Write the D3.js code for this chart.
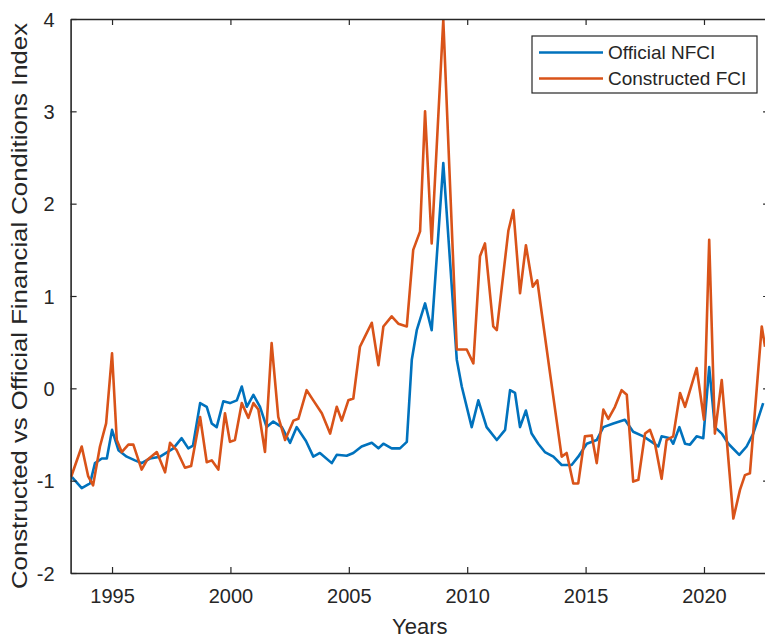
<!DOCTYPE html>
<html>
<head>
<meta charset="utf-8">
<script src="https://cdn.jsdelivr.net/npm/d3@7"></script>
<style>
  html, body { margin: 0; padding: 0; background: #fff; }
  svg { display: block; font-family: "Liberation Sans", Arial, Helvetica, sans-serif; }
</style>
</head>
<body>
<svg id="chart" width="765" height="638"></svg>
<script>
// Official NFCI (quarterly, decimal years)
const nfciYears = [1993.30, 1993.72, 1994.07, 1994.28, 1994.57, 1994.78, 1995.00, 1995.27, 1995.62, 1995.97,
  1996.25, 1996.60, 1997.03, 1997.59, 1997.94, 1998.22, 1998.42, 1998.72, 1999.00, 1999.21,
  1999.42, 1999.70, 1999.98, 2000.27, 2000.48, 2000.69, 2000.97, 2001.25, 2001.53, 2001.81,
  2002.17, 2002.52, 2002.80, 2003.19, 2003.50, 2003.78, 2004.28, 2004.49, 2004.91, 2005.19,
  2005.54, 2005.97, 2006.25, 2006.46, 2006.81, 2007.16, 2007.45, 2007.66, 2007.87, 2008.22,
  2008.50, 2008.99, 2009.56, 2009.77, 2010.19, 2010.47, 2010.82, 2011.25, 2011.60, 2011.81,
  2012.02, 2012.23, 2012.48, 2012.72, 2013.00, 2013.28, 2013.64, 2013.99, 2014.41, 2014.69,
  2015.05, 2015.47, 2015.75, 2016.17, 2016.66, 2017.01, 2017.44, 2017.79, 2018.07, 2018.21,
  2018.56, 2018.70, 2018.96, 2019.20, 2019.41, 2019.69, 2019.97, 2020.22, 2020.46, 2020.75,
  2021.03, 2021.49, 2021.80, 2022.08, 2022.50];
const nfciValues = [-0.96, -1.08, -1.03, -0.81, -0.76, -0.76, -0.45, -0.67, -0.74, -0.78,
  -0.81, -0.76, -0.74, -0.65, -0.54, -0.65, -0.62, -0.16, -0.20, -0.38,
  -0.42, -0.14, -0.16, -0.13, 0.02, -0.20, -0.07, -0.20, -0.42, -0.36,
  -0.42, -0.59, -0.42, -0.57, -0.74, -0.70, -0.81, -0.72, -0.73, -0.70,
  -0.63, -0.59, -0.65, -0.60, -0.65, -0.65, -0.58, 0.31, 0.63, 0.92,
  0.63, 2.44, 0.31, 0.02, -0.42, -0.13, -0.42, -0.56, -0.45, -0.02,
  -0.05, -0.42, -0.24, -0.49, -0.60, -0.69, -0.74, -0.83, -0.83, -0.74,
  -0.60, -0.56, -0.42, -0.38, -0.34, -0.47, -0.52, -0.58, -0.63, -0.52,
  -0.54, -0.60, -0.42, -0.60, -0.61, -0.52, -0.54, 0.23, -0.42, -0.49,
  -0.60, -0.72, -0.63, -0.49, -0.16];

// Constructed FCI
const fciYears = [1993.27, 1993.72, 1993.99, 1994.20, 1994.49, 1994.75, 1995.00, 1995.20, 1995.41, 1995.69,
  1995.90, 1996.25, 1996.47, 1996.89, 1997.24, 1997.45, 1997.73, 1998.08, 1998.34, 1998.72,
  1999.00, 1999.21, 1999.49, 1999.77, 1999.98, 2000.19, 2000.48, 2000.76, 2000.97, 2001.18,
  2001.46, 2001.74, 2002.02, 2002.31, 2002.66, 2002.87, 2003.22, 2003.50, 2003.86, 2004.21,
  2004.49, 2004.70, 2004.98, 2005.19, 2005.47, 2005.68, 2005.97, 2006.25, 2006.46, 2006.81,
  2007.09, 2007.45, 2007.72, 2008.01, 2008.22, 2008.50, 2008.99, 2009.56, 2009.98, 2010.26,
  2010.54, 2010.75, 2011.10, 2011.25, 2011.74, 2011.95, 2012.23, 2012.48, 2012.77, 2012.96,
  2013.15, 2013.50, 2013.99, 2014.20, 2014.48, 2014.69, 2014.97, 2015.26, 2015.47, 2015.75,
  2015.96, 2016.24, 2016.52, 2016.74, 2017.01, 2017.23, 2017.51, 2017.72, 2017.93, 2018.21,
  2018.42, 2018.70, 2018.99, 2019.20, 2019.69, 2020.00, 2020.22, 2020.46, 2020.75, 2021.24,
  2021.52, 2021.73, 2021.94, 2022.44, 2022.58];
const fciValues = [-0.96, -0.63, -0.95, -1.05, -0.63, -0.38, 0.38, -0.56, -0.69, -0.61,
  -0.61, -0.88, -0.78, -0.69, -0.91, -0.59, -0.67, -0.86, -0.84, -0.31,
  -0.80, -0.78, -0.88, -0.27, -0.58, -0.56, -0.16, -0.32, -0.16, -0.23,
  -0.69, 0.49, -0.31, -0.56, -0.35, -0.33, -0.02, -0.13, -0.27, -0.49,
  -0.20, -0.35, -0.13, -0.11, 0.45, 0.56, 0.71, 0.25, 0.67, 0.78,
  0.70, 0.67, 1.50, 1.70, 3.00, 1.57, 3.99, 0.42, 0.42, 0.27,
  1.43, 1.57, 0.67, 0.63, 1.71, 1.93, 1.03, 1.55, 1.10, 1.17,
  0.81, 0.16, -0.74, -0.70, -1.03, -1.03, -0.52, -0.51, -0.81, -0.23,
  -0.33, -0.20, -0.02, -0.07, -1.01, -0.99, -0.49, -0.45, -0.60, -0.98,
  -0.56, -0.52, -0.05, -0.20, 0.22, -0.34, 1.61, -0.49, 0.09, -1.41,
  -1.10, -0.94, -0.92, 0.67, 0.45];

const xTicks = [1995, 2000, 2005, 2010, 2015, 2020];
const yTicks = [-2, -1, 0, 1, 2, 3, 4];

const seriesNames = ["Official NFCI", "Constructed FCI"];
const seriesColors = ["#0072BD", "#D95319"];

const svg = d3.select("#chart");
const box = { left: 70.6, right: 769.1, top: 19, bottom: 573 };

const x = d3.scaleLinear().domain([1993.25, 2022.75]).range([box.left, box.right]);
const y = d3.scaleLinear().domain([-2, 4]).range([box.bottom, box.top]);

const axisColor = "#262626";
const plainNumber = d => String(d);

// plotting area clip
svg.append("defs").append("clipPath").attr("id", "plotClip")
  .append("rect").attr("x", box.left).attr("y", box.top)
  .attr("width", box.right - box.left).attr("height", box.bottom - box.top);

// series lines
const line = d3.line().x(d => x(d[0])).y(d => y(d[1]));
const nfciData = nfciYears.map((yr, i) => [yr, nfciValues[i]]);
const fciData = fciYears.map((yr, i) => [yr, fciValues[i]]);

const plot = svg.append("g").attr("clip-path", "url(#plotClip)");
plot.append("path").datum(nfciData)
  .attr("d", line).attr("fill", "none")
  .attr("stroke", seriesColors[0]).attr("stroke-width", 2.6)
  .attr("stroke-linejoin", "round");
plot.append("path").datum(fciData)
  .attr("d", line).attr("fill", "none")
  .attr("stroke", seriesColors[1]).attr("stroke-width", 2.6)
  .attr("stroke-linejoin", "round");

// axes (ticks point inward, box on)
const tickLen = 6;
const bottomAxis = svg.append("g").attr("transform", `translate(0,${box.bottom})`)
  .call(d3.axisBottom(x).tickValues(xTicks).tickFormat(plainNumber)
    .tickSizeInner(-tickLen).tickSizeOuter(0).tickPadding(16));
const topAxis = svg.append("g").attr("transform", `translate(0,${box.top})`)
  .call(d3.axisTop(x).tickValues(xTicks).tickFormat("")
    .tickSizeInner(-tickLen).tickSizeOuter(0));
const leftAxis = svg.append("g").attr("transform", `translate(${box.left},0)`)
  .call(d3.axisLeft(y).tickValues(yTicks).tickFormat(plainNumber)
    .tickSizeInner(-tickLen).tickSizeOuter(0).tickPadding(16));
const rightAxis = svg.append("g").attr("transform", `translate(${box.right},0)`)
  .call(d3.axisRight(y).tickValues(yTicks).tickFormat("")
    .tickSizeInner(-tickLen).tickSizeOuter(0));

[bottomAxis, topAxis, leftAxis, rightAxis].forEach(g => {
  g.select(".domain").attr("stroke", axisColor).attr("stroke-width", 1.6);
  g.selectAll(".tick line").attr("stroke", axisColor).attr("stroke-width", 1.2);
  g.selectAll(".tick text").attr("fill", "#262626")
    .attr("font-size", 20).attr("font-family", "'Liberation Sans', Arial, sans-serif");
});
leftAxis.selectAll(".tick text").attr("dy", "0.36em");
bottomAxis.selectAll(".tick text").attr("dy", "0.71em");

// axis titles
svg.append("text")
  .attr("x", (box.left + box.right) / 2).attr("y", 634)
  .attr("text-anchor", "middle").attr("font-size", 22).attr("fill", "#262626")
  .text("Years");

const yTitle = svg.append("text")
  .attr("transform", `translate(27,${(box.top + box.bottom) / 2 + 10}) rotate(-90)`)
  .attr("text-anchor", "middle").attr("font-size", 22).attr("fill", "#262626")
  .text("Constructed vs Official Financial Conditions Index");
yTitle.attr("textLength", 566).attr("lengthAdjust", "spacingAndGlyphs");

// legend
const legend = svg.append("g");
legend.append("rect")
  .attr("x", 532).attr("y", 36).attr("width", 225).attr("height", 57)
  .attr("fill", "#fff").attr("stroke", "#262626").attr("stroke-width", 1.2);
seriesNames.forEach((name, i) => {
  const ly = 52.5 + i * 26;
  legend.append("line").attr("x1", 539).attr("x2", 603).attr("y1", ly).attr("y2", ly)
    .attr("stroke", seriesColors[i]).attr("stroke-width", 2.6);
  legend.append("text").attr("x", 608).attr("y", ly).attr("dy", "0.35em")
    .attr("font-size", 19).attr("fill", "#262626").text(name);
});
</script>
</body>
</html>
